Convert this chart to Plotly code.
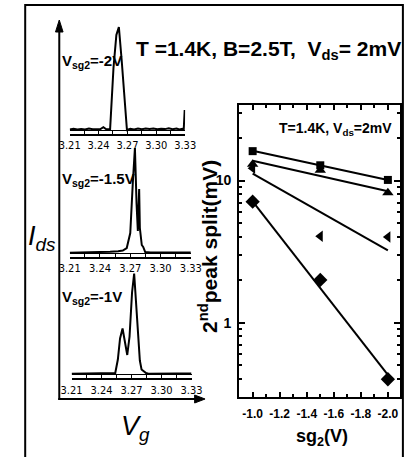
import math
import plotly.graph_objects as go

W, H = 412, 457

# ---------------- data: left panel (I_ds in arb. units vs V_g in V) ----------------
vg_ticks = [3.21, 3.24, 3.27, 3.30, 3.33]
vg_tick_text = ["3.21", "3.24", "3.27", "3.30", "3.33"]
vg_minor = [3.225, 3.255, 3.285, 3.315]

# V_sg2 = -2 V
vg_m2 = [3.210, 3.214, 3.218, 3.222, 3.226, 3.230, 3.234, 3.238, 3.242, 3.245,
         3.248, 3.252, 3.2555, 3.2585, 3.2611, 3.2640, 3.2670, 3.2695, 3.273, 3.277,
         3.281, 3.285, 3.289, 3.293, 3.297, 3.301, 3.305, 3.309, 3.313, 3.317,
         3.321, 3.324, 3.327, 3.3285, 3.3295]
ids_m2 = [0.5, 1.2, 0.4, 1.0, 0.6, 1.5, 0.8, 1.2, 1.0, 2.8,
          0.8, 1.0, 62, 95, 103, 70, 35, 0.0, 1.2, 0.6,
          1.4, 0.8, 1.6, 0.9, 1.5, 0.7, 1.3, 0.9, 1.8, 0.8,
          1.5, 0.6, 1.2, 0.5, 20]

# V_sg2 = -1.5 V
vg_m15 = [3.210, 3.220, 3.230, 3.240, 3.250, 3.258, 3.2626, 3.2665, 3.2700, 3.2725,
          3.2746, 3.2762, 3.2775, 3.2788, 3.2795, 3.2814, 3.2828, 3.2848, 3.290, 3.300,
          3.310, 3.320, 3.330]
ids_m15 = [0.3, 0.5, 0.4, 0.8, 1.2, 1.8, 2.5, 5, 20, 70,
           105, 50, 22, 64, 25, 8, 6, 1.0, 0.5, 0.6,
           0.4, 0.6, 0.4]

# V_sg2 = -1 V
vg_m1 = [3.210, 3.220, 3.230, 3.240, 3.250, 3.2537, 3.2563, 3.2585, 3.2610, 3.2635,
         3.2657, 3.2680, 3.2705, 3.2726, 3.2745, 3.2765, 3.2783, 3.2800, 3.2821, 3.2845,
         3.2868, 3.295, 3.305, 3.315, 3.330]
ids_m1 = [0.8, 1.0, 0.9, 1.0, 1.2, 1.5, 15, 36, 46, 32,
          19.5, 38, 82, 101, 72, 32, 14, 5, 3.5, 1.5,
          0.8, 1.0, 1.2, 0.9, 1.0]

# ---------------- data: right panel (2nd peak split vs sg2) ----------------
sg2 = [-1.0, -1.5, -2.0]
split_sq = [16.1, 12.8, 10.1]
split_tri = [13.0, 11.8, 8.2]
split_ltri = [12.2, 4.06, 4.0]
split_dia = [7.1, 2.0, 0.40]

fit_x = [-1.0, -2.0]
fit_sq = [16.2, 10.1]
fit_tri = [13.8, 8.4]
fit_ltri = [11.2, 3.23]
fit_dia = [7.14, 0.43]

sg2_ticks = [-1.0, -1.2, -1.4, -1.6, -1.8, -2.0]
sg2_tick_text = ["-1.0", "-1.2", "-1.4", "-1.6", "-1.8", "-2.0"]
sg2_minor = [-1.1, -1.3, -1.5, -1.7, -1.9]
split_ticks = [1, 10]
split_tick_text = ["1", "10"]
split_minor = [0.4, 0.5, 0.6, 0.7, 0.8, 0.9, 2, 3, 4, 5, 6, 7, 8, 9, 20, 30]


def fx(p):
    return p / W


def fy(p):
    return 1 - p / H


FONT = "Liberation Sans, Arial, sans-serif"
NARROW = "Liberation Sans Narrow, Arial Narrow, DejaVu Sans Condensed, Liberation Sans, sans-serif"

fig = go.Figure()

# right panel
for xs, ys, sym, sz in [(sg2, split_sq, "square", 8),
                        (sg2, split_tri, "triangle-up", 10),
                        (sg2, split_ltri, "triangle-left", 10),
                        (sg2, split_dia, "diamond", 11)]:
    fig.add_trace(go.Scatter(x=xs, y=ys, mode="markers", xaxis="x", yaxis="y",
                             marker=dict(symbol=sym, size=sz, color="black"),
                             showlegend=False, cliponaxis=False))
for ys in [fit_sq, fit_tri, fit_ltri, fit_dia]:
    fig.add_trace(go.Scatter(x=fit_x, y=ys, mode="lines", xaxis="x", yaxis="y",
                             line=dict(color="black", width=2), showlegend=False))

# left panel traces
left_specs = [
    # (xaxis, yaxis, x, y, x0px, x1px, ybot px, ytop px, ymax)
    ("x2", "y2", vg_m2, ids_m2, 62, 184, 133.5, 23, 107),
    ("x3", "y3", vg_m15, ids_m15, 62, 190, 256.5, 146, 107),
    ("x4", "y4", vg_m1, ids_m1, 64, 190.7, 378, 270, 104.5),
]

layout_axes = {}
for xa, ya, xs, ys, x0, x1, yb, yt, ymax in left_specs:
    fig.add_trace(go.Scatter(x=xs, y=ys, mode="lines", xaxis=xa, yaxis=ya,
                             line=dict(color="black", width=2), showlegend=False,
                             cliponaxis=False))
    n = xa[1:]
    layout_axes["xaxis" + n] = dict(
        domain=[fx(x0), fx(x1)], range=[3.21, 3.33], anchor=ya,
        showline=True, linecolor="black", linewidth=1.5,
        ticks="inside", ticklen=4, tickwidth=1, tickcolor="black",
        tickvals=vg_ticks, ticktext=vg_tick_text,
        tickfont=dict(family=NARROW, size=11, color="black"),
        minor=dict(tickvals=vg_minor, ticks="inside", ticklen=3, tickcolor="black"),
        showgrid=False, zeroline=False, fixedrange=True, ticklabelstandoff=1,
    )
    layout_axes["yaxis" + n] = dict(
        domain=[fy(yb), fy(yt)], range=[-3.5, ymax], anchor=xa,
        showticklabels=False, ticks="", showline=False, showgrid=False,
        zeroline=True, zerolinecolor="black", zerolinewidth=1, fixedrange=True,
    )

fig.update_layout(
    width=W, height=H, autosize=False,
    margin=dict(l=0, r=0, t=0, b=0),
    paper_bgcolor="white", plot_bgcolor="rgba(0,0,0,0)",
    font=dict(family=FONT, color="black"),
    xaxis=dict(
        domain=[fx(241), fx(411)], range=[-0.9, -2.09], anchor="y",
        showline=True, linecolor="black", linewidth=2, mirror="allticks",
        ticks="inside", ticklen=5, tickwidth=1.5, tickcolor="black",
        tickvals=sg2_ticks, ticktext=sg2_tick_text,
        tickfont=dict(family=FONT, size=12, weight="bold", color="black"),
        minor=dict(tickvals=sg2_minor, ticks="inside", ticklen=3, tickwidth=1.5, tickcolor="black"),
        showgrid=False, zeroline=False, ticklabelstandoff=5,
    ),
    yaxis=dict(
        type="log", domain=[fy(397), fy(105)],
        range=[math.log10(0.30), math.log10(34)], anchor="x",
        showline=True, linecolor="black", linewidth=2, mirror="allticks",
        ticks="inside", ticklen=6, tickwidth=1.5, tickcolor="black",
        tickvals=split_ticks, ticktext=split_tick_text,
        tickfont=dict(family=FONT, size=14, weight="bold", color="black"),
        minor=dict(tickvals=split_minor, ticks="inside", ticklen=3, tickwidth=1.5, tickcolor="black"),
        showgrid=False, zeroline=False, ticklabelstandoff=3,
    ),
    **layout_axes,
)

ann = []


def add_text(text, x, y, size, xanchor="center", yanchor="middle", angle=0, family=FONT):
    ann.append(dict(text=text, x=fx(x), y=fy(y), xref="paper", yref="paper",
                    xanchor=xanchor, yanchor=yanchor, showarrow=False, textangle=angle,
                    font=dict(family=family, size=size, color="black")))


add_text("<b>T =1.4K, B=2.5T,\u00a0 V<sub>ds</sub>= 2mV</b>", 130, 50, 21, xanchor="left")
add_text("<b>T=1.4K, V<sub>ds</sub>=2mV</b>", 405, 129, 14, xanchor="right")
add_text("<b>V<sub>sg2</sub>=-2V</b>", 52, 62, 15, xanchor="left")
add_text("<b>V<sub>sg2</sub>=-1.5V</b>", 52, 179, 15, xanchor="left")
add_text("<b>V<sub>sg2</sub>=-1V</b>", 52, 297, 15, xanchor="left")
add_text("<i>I</i><sub><i>ds</i></sub>", 33, 238, 27)
add_text("<i>V</i><sub><i>g</i></sub>", 131, 428, 27)
add_text("<b>sg<sub>2</sub>(V)</b>", 329, 437, 18)
add_text("<b>2<sup>nd</sup>peak split(mV)</b>", 208, 246, 21, angle=-90)
fig.update_layout(annotations=ann)


def P(x, y):
    return f"{fx(x)},{fy(y)}"


shapes = [
    dict(type="rect", xref="paper", yref="paper", x0=fx(15), x1=fx(414), y0=fy(5), y1=fy(470),
         line=dict(color="black", width=2)),
    dict(type="line", xref="paper", yref="paper", x0=fx(51), x1=fx(51), y0=fy(400), y1=fy(30),
         line=dict(color="black", width=2)),
    dict(type="path", xref="paper", yref="paper",
         path=f"M {P(47, 32)} L {P(55, 32)} L {P(51, 20)} Z",
         fillcolor="black", line=dict(color="black", width=1)),
    dict(type="line", xref="paper", yref="paper", x0=fx(50), x1=fx(196), y0=fy(399), y1=fy(399),
         line=dict(color="black", width=2)),
    dict(type="path", xref="paper", yref="paper",
         path=f"M {P(194, 395)} L {P(194, 403)} L {P(205, 399)} Z",
         fillcolor="black", line=dict(color="black", width=1)),
]
fig.update_layout(shapes=shapes)

fig.write_html("out.html")
